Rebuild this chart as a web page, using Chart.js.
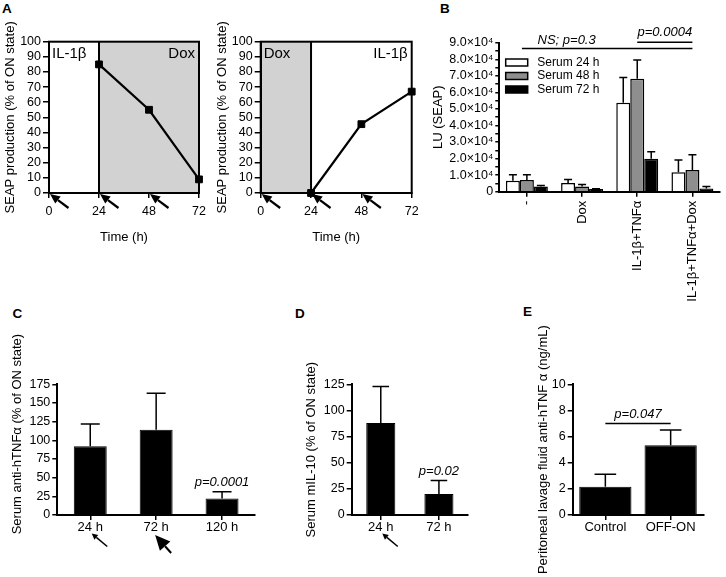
<!DOCTYPE html>
<html><head><meta charset="utf-8">
<script src="https://cdn.jsdelivr.net/npm/chart.js@4.4.1/dist/chart.umd.min.js"></script>
<style>
html,body{margin:0;padding:0;background:#fff;}
body{position:relative;width:726px;height:577px;overflow:hidden;font-family:"Liberation Sans",Arial,sans-serif;}
canvas{position:absolute;}
.pl{position:absolute;font-weight:bold;font-size:13.5px;line-height:13px;color:#000;}
</style></head><body>
<div class="pl" style="left:2px;top:2px">A</div>
<div class="pl" style="left:440px;top:2px">B</div>
<div class="pl" style="left:12.5px;top:306.5px">C</div>
<div class="pl" style="left:295px;top:306.5px">D</div>
<div class="pl" style="left:523px;top:305px">E</div>
<canvas id="cA1" width="215" height="255" style="left:0;top:0"></canvas>
<canvas id="cA2" width="215" height="255" style="left:212px;top:0"></canvas>
<canvas id="cB" width="296" height="305" style="left:430px;top:0"></canvas>
<canvas id="cC" width="262" height="277" style="left:0;top:300px"></canvas>
<canvas id="cD" width="190" height="277" style="left:290px;top:300px"></canvas>
<canvas id="cE" width="201" height="277" style="left:525px;top:300px"></canvas>
<script>
// ---------------- DATA ----------------
const timeTicks = [0, 24, 48, 72];
const pctTicks = [0, 10, 20, 30, 40, 50, 60, 70, 80, 90, 100];
const a1Time = [24, 48, 72];
const a1Seap = [85, 55, 9];
const a2Time = [24, 48, 72];
const a2Seap = [0, 45.5, 67];
const a1DoxPhase = [24, 72];
const a2DoxPhase = [0, 24];
const phaseSwitchTime = 24;
const a1PhaseLabels = ['IL-1β', 'Dox'];
const a2PhaseLabels = ['Dox', 'IL-1β'];
const arrowTimes = [0, 24, 48];

const bCategories = ['-', 'Dox', 'IL-1β+TNFα', 'IL-1β+TNFα+Dox'];
const bSeriesNames = ['Serum 24 h', 'Serum 48 h', 'Serum 72 h'];
const bSerum24 = [6600, 5200, 53800, 11700];
const bSerum24Err = [3700, 2200, 15200, 7400];
const bSerum48 = [7000, 3200, 68200, 13100];
const bSerum48Err = [3300, 1200, 11300, 9200];
const bSerum72 = [3200, 1600, 19900, 2000];
const bSerum72Err = [500, 200, 4300, 1200];
const bYTicks = [0, 5000, 10000, 15000, 20000, 25000, 30000, 35000, 40000, 45000, 50000, 55000, 60000, 65000, 70000, 75000, 80000, 85000, 90000];
const bYTickLabels = ['0', '', '1.0×10⁴', '', '2.0×10⁴', '', '3.0×10⁴', '', '4.0×10⁴', '', '5.0×10⁴', '', '6.0×10⁴', '', '7.0×10⁴', '', '8.0×10⁴', '', '9.0×10⁴'];
const bComparisonTexts = ['NS; p=0.3', 'p=0.0004'];
const bComparisonSpans = [[-0.09, 3], [2, 3]];
const bComparisonLevels = [86500, 90200];
const bComparisonTextAt = [0.72, 2.5];

const cCategories = ['24 h', '72 h', '120 h'];
const cValues = [92, 114, 22];
const cErrors = [30, 49, 9];
const cYTicks = [0, 25, 50, 75, 100, 125, 150, 175];
const cPValue = 'p=0.0001';
const cPValueCat = 2;
const cArrowCats = [0, 1];
const cArrowKinds = ['line', 'head'];

const dCategories = ['24 h', '72 h'];
const dValues = [88, 20];
const dErrors = [35, 13];
const dYTicks = [0, 25, 50, 75, 100, 125];
const dPValue = 'p=0.02';
const dPValueCat = 1;
const dArrowCats = [0];
const dArrowKinds = ['line'];

const eCategories = ['Control', 'OFF-ON'];
const eValues = [2.17, 5.33];
const eErrors = [0.94, 1.17];
const eYTicks = [0, 2, 4, 6, 8, 10];
const eComparisonTexts = ['p=0.047'];
const eComparisonSpans = [[0, 1]];
const eComparisonLevels = [7.0];
const eComparisonTextAt = [0.5];

// ---------------- SETUP ----------------
const FONT = '"Liberation Sans", Arial, Helvetica, sans-serif';
Chart.defaults.font.family = FONT;
Chart.defaults.font.size = 12;
Chart.defaults.color = '#000';
Chart.defaults.animation = false;
Chart.defaults.responsive = false;
Chart.defaults.plugins.legend.display = false;
Chart.defaults.plugins.tooltip.enabled = false;

function axisLook(tickLen) {
  return {
    grid: {display: true, drawOnChartArea: false, drawTicks: true, tickLength: tickLen, color: '#000', lineWidth: 1.5, offset: false},
    border: {display: true, color: '#000', width: 2}
  };
}
function setTicks(list) {
  return s => { s.ticks = list.map(v => ({value: v})); };
}

function arrow(ctx, tx, ty, ex, ey, head, hw, lw) {
  const ang = Math.atan2(ty - ey, tx - ex);
  const bx = tx - head * Math.cos(ang), by = ty - head * Math.sin(ang);
  ctx.save();
  ctx.strokeStyle = '#000'; ctx.fillStyle = '#000'; ctx.lineWidth = lw;
  ctx.beginPath(); ctx.moveTo(ex, ey); ctx.lineTo(bx, by); ctx.stroke();
  ctx.beginPath(); ctx.moveTo(tx, ty);
  ctx.lineTo(bx + hw * Math.sin(ang), by - hw * Math.cos(ang));
  ctx.lineTo(bx - hw * Math.sin(ang), by + hw * Math.cos(ang));
  ctx.closePath(); ctx.fill();
  ctx.restore();
}

const errorBarPlugin = {
  id: 'errorBars',
  afterDatasetsDraw(chart, args, o) {
    const ctx = chart.ctx, y = chart.scales.y;
    chart.data.datasets.forEach((ds, di) => {
      if (!ds.errors) return;
      chart.getDatasetMeta(di).data.forEach((bar, i) => {
        const e = ds.errors[i];
        if (!e) return;
        const top = y.getPixelForValue(ds.data[i] + e);
        ctx.save();
        ctx.strokeStyle = '#000'; ctx.lineWidth = o.lineWidth || 1.5;
        ctx.beginPath();
        ctx.moveTo(bar.x, bar.y); ctx.lineTo(bar.x, top);
        ctx.moveTo(bar.x - o.cap, top); ctx.lineTo(bar.x + o.cap, top);
        ctx.stroke();
        ctx.restore();
      });
    });
  }
};

const bracketPlugin = {
  id: 'brackets',
  afterDraw(chart, args, o) {
    if (!o.texts) return;
    const {ctx, scales: {x, y}} = chart;
    o.texts.forEach((t, i) => {
      const yy = y.getPixelForValue(o.levels[i]);
      const x0 = x.getPixelForValue(o.spans[i][0]), x1 = x.getPixelForValue(o.spans[i][1]);
      ctx.save();
      ctx.strokeStyle = '#000'; ctx.lineWidth = 1.5;
      ctx.beginPath(); ctx.moveTo(x0, yy); ctx.lineTo(x1, yy); ctx.stroke();
      ctx.fillStyle = '#000'; ctx.font = 'italic 13px ' + FONT;
      ctx.textAlign = 'center'; ctx.textBaseline = 'middle';
      ctx.fillText(t, x.getPixelForValue(o.textAt[i]), yy - o.lift[i]);
      ctx.restore();
    });
  }
};

const pLabelPlugin = {
  id: 'pLabel',
  afterDraw(chart, args, o) {
    if (!o.text) return;
    const {ctx, scales: {x, y}} = chart;
    const ds = chart.data.datasets[0];
    const top = y.getPixelForValue(ds.data[o.index] + ds.errors[o.index]);
    ctx.save();
    ctx.fillStyle = '#000'; ctx.font = 'italic 13px ' + FONT;
    ctx.textAlign = 'center'; ctx.textBaseline = 'middle';
    ctx.fillText(o.text, x.getPixelForValue(o.index), top - o.lift);
    ctx.restore();
  }
};

const catArrowPlugin = {
  id: 'catArrows',
  afterDraw(chart, args, o) {
    if (!o.cats) return;
    const {ctx, chartArea: a, scales: {x}} = chart;
    o.cats.forEach((c, i) => {
      const px = x.getPixelForValue(c);
      if (o.kinds[i] === 'head') {
        arrow(ctx, px - 1, a.bottom + 20, px + 15, a.bottom + 38, 15, 7, 2);
      } else {
        arrow(ctx, px + 1.5, a.bottom + 18.5, px + 17, a.bottom + 31.5, 6, 3, 1.5);
      }
    });
  }
};

const sideTitlePlugin = {
  id: 'sideTitle',
  afterDraw(chart, args, o) {
    if (!o.text) return;
    const {ctx, chartArea: a} = chart;
    ctx.save();
    ctx.translate(o.x, (a.top + a.bottom) / 2 + o.dy);
    ctx.rotate(-Math.PI / 2);
    ctx.fillStyle = '#000'; ctx.font = '13px ' + FONT;
    ctx.textAlign = 'center'; ctx.textBaseline = 'middle';
    ctx.fillText(o.text, 0, 0);
    ctx.restore();
  }
};

const boxLegendPlugin = {
  id: 'boxLegend',
  afterDraw(chart, args, o) {
    const {ctx, chartArea: a} = chart;
    chart.data.datasets.forEach((ds, i) => {
      const cy = a.top + o.y + i * o.row;
      const lx = a.left + o.x;
      ctx.save();
      ctx.fillStyle = ds.backgroundColor;
      ctx.fillRect(lx, cy - o.boxH / 2, o.boxW, o.boxH);
      ctx.strokeStyle = '#000'; ctx.lineWidth = 1.5;
      ctx.strokeRect(lx, cy - o.boxH / 2, o.boxW, o.boxH);
      ctx.fillStyle = '#000'; ctx.font = '12px ' + FONT;
      ctx.textAlign = 'left'; ctx.textBaseline = 'middle';
      ctx.fillText(ds.label, lx + o.boxW + o.gap, cy);
      ctx.restore();
    });
  }
};

// ---------------- PANEL A ----------------
function timeChart(id, times, values, doxPhase, phaseLabels, yWidth, rightPad) {
  const deco = {
    id: 'timeDeco',
    beforeDraw(chart) {
      const {ctx, chartArea: a, scales: {x}} = chart;
      const x0 = x.getPixelForValue(doxPhase[0]), x1 = x.getPixelForValue(doxPhase[1]);
      ctx.save(); ctx.fillStyle = '#d2d2d2';
      ctx.fillRect(x0, a.top, x1 - x0, a.bottom - a.top);
      ctx.restore();
    },
    beforeDatasetsDraw(chart) {
      const {ctx, chartArea: a, scales: {x}} = chart;
      ctx.save(); ctx.strokeStyle = '#000'; ctx.lineWidth = 2;
      ctx.strokeRect(a.left, a.top, a.right - a.left, a.bottom - a.top);
      const xs = x.getPixelForValue(phaseSwitchTime);
      ctx.beginPath(); ctx.moveTo(xs, a.top); ctx.lineTo(xs, a.bottom); ctx.stroke();
      ctx.fillStyle = '#000'; ctx.font = '15px ' + FONT; ctx.textBaseline = 'middle';
      ctx.textAlign = 'left'; ctx.fillText(phaseLabels[0], a.left + 3, a.top + 12);
      ctx.textAlign = 'right'; ctx.fillText(phaseLabels[1], a.right - 4, a.top + 12);
      ctx.restore();
    },
    afterDraw(chart) {
      const {ctx, chartArea: a, scales: {x}} = chart;
      arrowTimes.forEach(t => {
        const px = x.getPixelForValue(t);
        arrow(ctx, px + 1, a.bottom + 1, px + 19.5, a.bottom + 15, 10, 4.5, 2.2);
      });
    }
  };
  return new Chart(document.getElementById(id), {
    type: 'scatter',
    data: {datasets: [{
      label: 'SEAP',
      data: times.map((t, i) => ({x: t, y: values[i]})),
      showLine: true, borderColor: '#000', borderWidth: 2.2,
      pointStyle: 'rect', pointRadius: 4.8, pointBackgroundColor: '#000', pointBorderColor: '#000', pointBorderWidth: 1,
      clip: false
    }]},
    options: {
      layout: {padding: {top: 41.7, right: rightPad, left: 0, bottom: 0}},
      scales: {
        x: Object.assign(axisLook(5), {
          type: 'linear', min: 0, max: 72,
          afterBuildTicks: setTicks(timeTicks),
          afterFit: s => { s.height = 62; },
          ticks: {font: {size: 12.5}, padding: 6, maxRotation: 0, autoSkip: false},
          title: {display: true, text: 'Time (h)', font: {size: 13}, padding: {top: 0, bottom: 10.2}}
        }),
        y: Object.assign(axisLook(6), {
          min: 0, max: 100,
          afterBuildTicks: setTicks(pctTicks),
          afterFit: s => { s.width = yWidth; },
          ticks: {font: {size: 12.5}, padding: 2, autoSkip: false},
          title: {display: true, text: 'SEAP production (% of ON state)', font: {size: 13}, padding: {top: 3, bottom: 0}}
        })
      }
    },
    plugins: [deco]
  });
}
timeChart('cA1', a1Time, a1Seap, a1DoxPhase, a1PhaseLabels, 49, 16);
timeChart('cA2', a2Time, a2Seap, a2DoxPhase, a2PhaseLabels, 48.7, 15.3);

// ---------------- PANEL B ----------------
new Chart(document.getElementById('cB'), {
  type: 'bar',
  data: {
    labels: bCategories,
    datasets: [
      {label: bSeriesNames[0], data: bSerum24, errors: bSerum24Err, backgroundColor: '#ffffff', borderColor: '#000', borderWidth: 1.5},
      {label: bSeriesNames[1], data: bSerum48, errors: bSerum48Err, backgroundColor: '#8e8e8e', borderColor: '#000', borderWidth: 1.5},
      {label: bSeriesNames[2], data: bSerum72, errors: bSerum72Err, backgroundColor: '#000000', borderColor: '#000', borderWidth: 1.5}
    ]
  },
  options: {
    layout: {padding: {top: 42.7, right: 6, left: 0, bottom: 0}},
    datasets: {bar: {categoryPercentage: 0.76, barPercentage: 1.0}},
    scales: {
      x: Object.assign(axisLook(5), {
        afterFit: s => { s.height = 305 - 191.7; },
        ticks: {minRotation: 90, maxRotation: 90, autoSkip: false, padding: 4, font: {size: 13}}
      }),
      y: Object.assign(axisLook(4), {
        min: 0, max: 90000,
        afterBuildTicks: setTicks(bYTicks),
        afterFit: s => { s.width = 69.3; },
        ticks: {autoSkip: false, padding: 2, font: {size: 12.5}, callback: (v, i) => bYTickLabels[i]},
        title: {display: true, text: 'LU (SEAP)', font: {size: 13}, padding: {top: 1, bottom: 0}}
      })
    },
    plugins: {
      errorBars: {cap: 4, lineWidth: 1.5},
      brackets: {texts: bComparisonTexts, spans: bComparisonSpans, levels: bComparisonLevels, textAt: bComparisonTextAt, lift: [8.3, 10]},
      boxLegend: {x: 6.4, y: 19.8, row: 13.5, boxW: 22, boxH: 7, gap: 9.6}
    }
  },
  plugins: [errorBarPlugin, bracketPlugin, boxLegendPlugin]
});

// ---------------- PANELS C, D, E ----------------
function simpleBar(id, cats, vals, errs, yTicks, yMax, opts) {
  return new Chart(document.getElementById(id), {
    type: 'bar',
    data: {labels: cats, datasets: [{label: opts.name, data: vals, errors: errs, backgroundColor: '#000', borderColor: '#000', borderWidth: 1}]},
    options: {
      layout: {padding: {top: 84.3, right: opts.rightPad, left: 0, bottom: 0}},
      datasets: {bar: {categoryPercentage: 1.0, barPercentage: opts.barPct}},
      scales: {
        x: Object.assign(axisLook(5), {
          afterFit: s => { s.height = 62; },
          ticks: {autoSkip: false, maxRotation: 0, padding: 0, font: {size: 13}}
        }),
        y: Object.assign(axisLook(5), {
          min: 0, max: yMax,
          afterBuildTicks: setTicks(yTicks),
          afterFit: s => { s.width = opts.yWidth; },
          ticks: {autoSkip: false, padding: 2, font: {size: 12.5}},
          title: opts.yTitle ? {display: true, text: opts.yTitle, font: {size: 13}, padding: {top: opts.titlePad, bottom: 0}} : {display: false}
        })
      },
      plugins: {
        errorBars: {cap: opts.cap, lineWidth: 1.5},
        pLabel: opts.pLabel || {},
        brackets: opts.brackets || {},
        catArrows: opts.arrows || {},
        sideTitle: opts.sideTitle || {}
      }
    },
    plugins: [errorBarPlugin, pLabelPlugin, bracketPlugin, catArrowPlugin, sideTitlePlugin]
  });
}

simpleBar('cC', cCategories, cValues, cErrors, cYTicks, 175, {
  name: 'Serum anti-hTNFα', rightPad: 7, barPct: 0.5, yWidth: 57.3, cap: 9.5,
  pLabel: {text: cPValue, index: cPValueCat, lift: 9},
  arrows: {cats: cArrowCats, kinds: cArrowKinds},
  sideTitle: {text: 'Serum anti-hTNFα (% of ON state)', x: 17, dy: -15.5}
});
simpleBar('cD', dCategories, dValues, dErrors, dYTicks, 125, {
  name: 'Serum mIL-10', rightPad: 12, barPct: 0.5, yWidth: 61.7, cap: 8.3,
  yTitle: 'Serum mIL-10 (% of ON state)', titlePad: 13.9,
  pLabel: {text: dPValue, index: dPValueCat, lift: 9},
  arrows: {cats: dArrowCats, kinds: dArrowKinds}
});
simpleBar('cE', eCategories, eValues, eErrors, eYTicks, 10, {
  name: 'Peritoneal lavage fluid anti-hTNFα', rightPad: 22.7, barPct: 0.8, yWidth: 47.7, cap: 10.8,
  yTitle: 'Peritoneal lavage fluid anti-hTNF α (ng/mL)', titlePad: 10.2,
  brackets: {texts: eComparisonTexts, spans: eComparisonSpans, levels: eComparisonLevels, textAt: eComparisonTextAt, lift: [9.3]}
});
</script>
</body></html>
